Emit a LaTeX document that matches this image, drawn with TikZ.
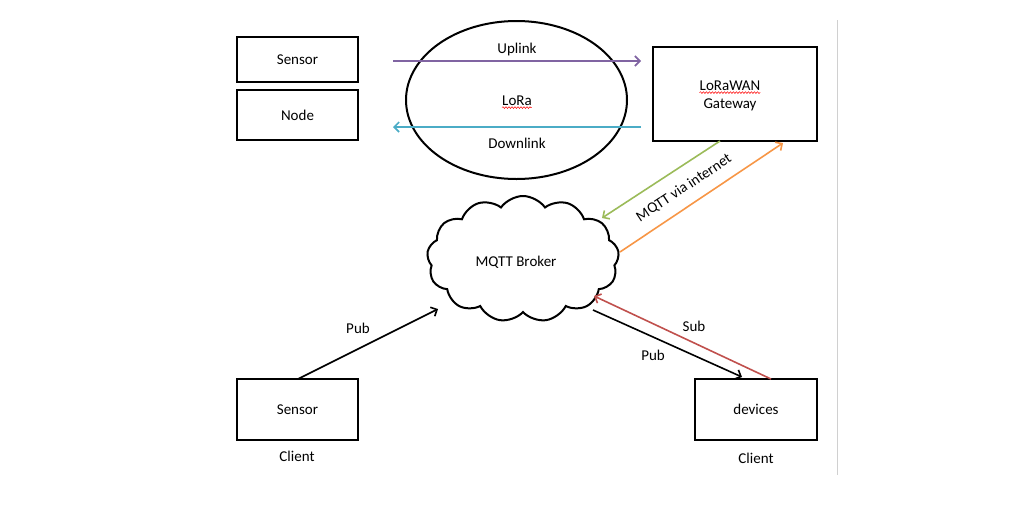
\documentclass[tikz,border=0pt]{standalone}
\usepackage{fontspec}
\setmainfont{Carlito}
\usetikzlibrary{shapes.symbols,arrows.meta,decorations.pathmorphing,calc}
\definecolor{upc}{HTML}{8064A2}
\definecolor{downc}{HTML}{4BACC6}
\definecolor{greenc}{HTML}{9BBB59}
\definecolor{orangec}{HTML}{F79646}
\definecolor{redc}{HTML}{C0504D}
\definecolor{sepc}{HTML}{D0D0D0}
\tikzset{
  box/.style={draw=black, line width=2pt, inner sep=0pt, align=center},
  conn/.style={line width=1.6pt, -{Straight Barb[length=5pt,width=10pt,line width=1.6pt]}},
  lbl/.style={inner sep=0pt},
  squig/.style={draw=red, line width=0.5pt, decorate, decoration={snake, amplitude=0.9pt, segment length=3pt}}
}
\begin{document}
\begin{tikzpicture}[x=1pt,y=-1pt,font=\fontsize{15}{18}\selectfont]
\useasboundingbox (0,0) rectangle (1031,507);
% separator
\draw[sepc, line width=1pt] (837,20) -- (837,475);
% top boxes
\node[box, minimum width=121pt, minimum height=45pt] (sensorTop) at (297.5,59.5) {Sensor};
\node[box, minimum width=121pt, minimum height=50pt] (nodeTop) at (297.5,115) {Node};
\node[box, minimum width=164pt, minimum height=94pt] (gw) at (735,94) {};
\node[lbl] (gwt1) at (730,86) {LoRaWAN};
\node[lbl] (gwt2) at (730,105) {Gateway};
\draw[squig] ($(gwt1.south west)+(0,1.5)$) -- ($(gwt1.south east)+(0,1.5)$);
% ellipse
\draw[line width=2pt] (516.5,100) ellipse [x radius=110.5pt, y radius=79pt];
\node[lbl] (lora) at (517,101) {LoRa};
\draw[squig] ($(lora.south west)+(0,1.5)$) -- ($(lora.south east)+(0,1.5)$);
\node[lbl] (uplbl) at (517,49) {Uplink};
\node[lbl] (downlbl) at (517,143) {Downlink};
\coordinate (upS) at (393,61);
\coordinate (upE) at (641,61);
\coordinate (dnS) at (641,127);
\coordinate (dnE) at (393,127);
\draw[conn, upc] (upS) -- (upE);
\draw[conn, downc] (dnS) -- (dnE);
% cloud
\node[draw, line width=2pt, cloud, cloud puffs=13, cloud puff arc=110, aspect=1.5, minimum width=192pt, minimum height=126pt, inner sep=0pt] (broker) at (523,259) {};
\node[lbl] (brokerlbl) at (516,262) {MQTT Broker};
% gateway <-> broker
\coordinate (gS) at (720,141);
\coordinate (gE) at (602,218);
\coordinate (oS) at (620,252);
\coordinate (oE) at (783,143);
\draw[conn, greenc] (gS) -- (gE);
\draw[conn, orangec] (oS) -- (oE);
\node[lbl, rotate=33.5] (mqttlbl) at (684,188) {MQTT via internet};
% bottom boxes
\node[box, minimum width=121pt, minimum height=61pt] (sensorBot) at (297.5,409.5) {Sensor};
\node[box, minimum width=122pt, minimum height=61pt] (devices) at (756,409.5) {devices};
\node[lbl] (client1) at (297,456) {Client};
\node[lbl] (client2) at (756,458) {Client};
% bottom connectors
\coordinate (p1S) at (298,379);
\coordinate (p1E) at (438,309);
\draw[conn, black] (p1S) -- (p1E);
\node[lbl] (pub1) at (358,328) {Pub};
\coordinate (p2S) at (593,310);
\coordinate (p2E) at (742,377);
\draw[conn, black] (p2S) -- (p2E);
\node[lbl] (pub2) at (653,355) {Pub};
\coordinate (sS) at (771,379);
\coordinate (sE) at (594,296);
\draw[conn, redc] (sS) -- (sE);
\node[lbl] (sub) at (694,326) {Sub};
\end{tikzpicture}
\end{document}
